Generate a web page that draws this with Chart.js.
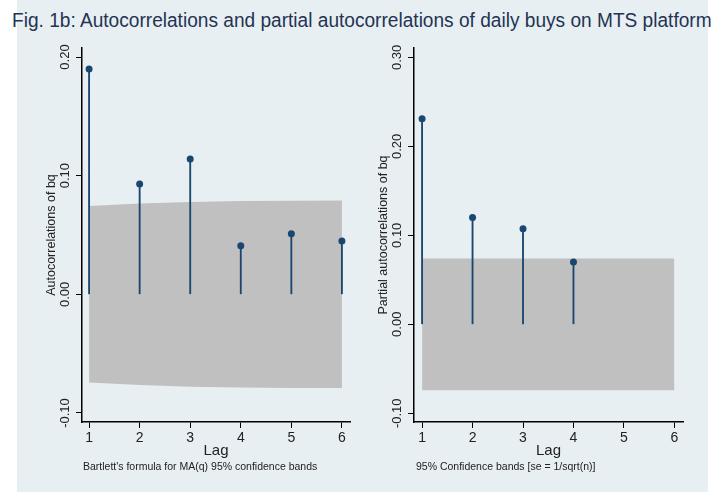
<!DOCTYPE html>
<html>
<head>
<meta charset="utf-8">
<script src="https://cdn.jsdelivr.net/npm/chart.js@4/dist/chart.umd.min.js"></script>
<style>
  body { margin:0; background:#fff; width:718px; height:492px; overflow:hidden; position:relative; font-family:"Liberation Sans", Arial, sans-serif; }
  #bg { position:absolute; left:17px; top:0; width:691px; height:492px; background:#e8eff2; }
  #title { position:absolute; left:12px; top:10px; font-size:20px; line-height:20px; color:#243352; white-space:nowrap; transform-origin:0 0; }
  canvas { position:absolute; }
  .note { position:absolute; top:460px; font-size:10.5px; color:#222; white-space:nowrap; }
</style>
</head>
<body>
<div id="bg"></div>
<div id="title">Fig. 1b: Autocorrelations and partial autocorrelations of daily buys on MTS platform</div>
<canvas id="acf" width="343" height="440" style="left:17px;top:40px"></canvas>
<canvas id="pacf" width="333" height="440" style="left:360px;top:40px"></canvas>
<div class="note" style="left:83px">Bartlett's formula for MA(q) 95% confidence bands</div>
<div class="note" style="left:416px">95% Confidence bands [se = 1/sqrt(n)]</div>
<script>
document.addEventListener('DOMContentLoaded', function(){

  // data
  const lags = [1, 2, 3, 4, 5, 6];
  const acf = [0.190, 0.093, 0.114, 0.041, 0.051, 0.045];
  const acfBand = [0.0744, 0.0765, 0.0778, 0.0786, 0.0789, 0.0790];
  const pacfLags = [1, 2, 3, 4];
  const pacf = [0.231, 0.120, 0.1075, 0.070];
  const pacfBand = [0.074, 0.074, 0.074, 0.074, 0.074, 0.074];
  const acfTicks = [-0.1, 0, 0.1, 0.2];
  const pacfTicks = [-0.1, 0, 0.1, 0.2, 0.3];

  // fit title width
  var t = document.getElementById('title');
  t.style.transform = 'scaleX(' + (700 / t.offsetWidth) + ')';

  const navy = '#1a476f';

  // rotated y tick labels
  const rotTicks = {
    id: 'rotTicks',
    afterDraw(chart) {
      const sc = chart.scales.y;
      const ctx = chart.ctx;
      ctx.save();
      ctx.fillStyle = '#222';
      ctx.font = '13px "Liberation Sans", Arial, sans-serif';
      ctx.textAlign = 'center';
      ctx.textBaseline = 'middle';
      sc.ticks.forEach(tk => {
        const y = sc.getPixelForValue(tk.value);
        ctx.save();
        ctx.translate(sc.right - 17, y);
        ctx.rotate(-Math.PI / 2);
        ctx.fillText(tk.value.toFixed(2), 0, 0);
        ctx.restore();
      });
      ctx.restore();
    }
  };

  function makePanel(id, xs, vals, band, yTicks, yMin, yMax, xMin, xMax, yTitle, yWidth, titlePad) {
    const upper = lags.map((l, i) => ({x: l, y: band[i]}));
    const lower = lags.map((l, i) => ({x: l, y: -band[i]}));
    const pts = xs.map((l, i) => ({x: l, y: vals[i]}));
    return new Chart(document.getElementById(id), {
      type: 'scatter',
      data: {
        datasets: [
          { type: 'line', data: upper, fill: '+1', backgroundColor: '#c0c0c0', borderWidth: 0, pointRadius: 0, order: 3 },
          { type: 'line', data: lower, fill: false, borderWidth: 0, pointRadius: 0, order: 3 },
          { type: 'bar', data: pts, backgroundColor: navy, barThickness: 1.2, order: 2 },
          { type: 'scatter', data: pts, backgroundColor: navy, borderColor: navy, pointRadius: 3.5, borderWidth: 0, order: 1 }
        ]
      },
      options: {
        responsive: false,
        animation: false,
        events: [],
        layout: { padding: { top: 8, right: 10, left: 0, bottom: 0 } },
        plugins: { legend: { display: false }, tooltip: { enabled: false } },
        scales: {
          x: {
            type: 'linear', offset: false, min: xMin, max: xMax,
            afterBuildTicks: s => { s.ticks = lags.map(v => ({value: v})); },
            afterFit: s => { s.height = 58; },
            grid: { drawOnChartArea: false, offset: false, tickLength: 6, tickColor: '#000', tickWidth: 1 },
            border: { color: '#000', width: 1.5 },
            ticks: { padding: 2, color: '#222', font: { size: 14, family: '"Liberation Sans", Arial' } },
            title: { display: true, text: 'Lag', color: '#222', padding: { top: 0, bottom: 20 }, font: { size: 15, family: '"Liberation Sans", Arial' } }
          },
          y: {
            type: 'linear', min: yMin, max: yMax,
            afterBuildTicks: s => { s.ticks = yTicks.map(v => ({value: v})); },
            afterFit: s => { s.width = yWidth; },
            grid: { color: '#e6eef1', lineWidth: 1, tickLength: 6, tickColor: '#000', tickWidth: 1 },
            border: { color: '#000', width: 1.5 },
            ticks: { display: false },
            title: { display: true, text: yTitle, color: '#222', padding: { top: titlePad, bottom: 0 }, font: { size: 12.5, family: '"Liberation Sans", Arial' } }
          }
        }
      },
      plugins: [rotTicks]
    });
  }

  makePanel('acf', lags, acf, acfBand, acfTicks, -0.1076, 0.2076, 0.86, 6.16, 'Autocorrelations of bq', 65, 27);
  makePanel('pacf', pacfLags, pacf, pacfBand, pacfTicks, -0.1098, 0.3105, 0.84, 6.17, 'Partial autocorrelations of bq', 54, 16);

})
</script>
</body>
</html>
